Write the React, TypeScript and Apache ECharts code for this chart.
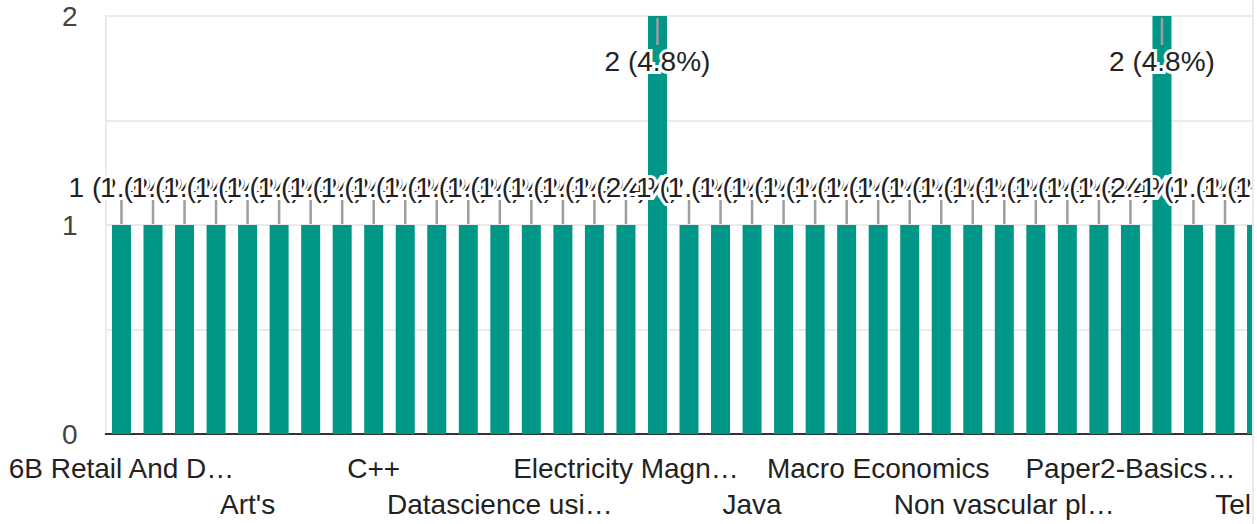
import React, { useEffect, useRef } from "react";
import * as echarts from "echarts";

const categories: string[] = [
  "6B Retail And Distribution Management",
  "Accountancy",
  "Advanced Java",
  "Algebra",
  "Art's",
  "Biology",
  "Botany",
  "Business Studies",
  "C++",
  "Chemistry",
  "Commerce",
  "Computer Networks",
  "Datascience using Python",
  "Digital Electronics",
  "Discrete Mathematics",
  "Economics",
  "Electricity Magnetism",
  "English",
  "Environmental Studies",
  "Hindi",
  "Java",
  "Kannada",
  "Linear Algebra",
  "Logic Design",
  "Macro Economics",
  "Marketing",
  "Mathematics",
  "Micro Economics",
  "Non vascular plants",
  "Operating Systems",
  "Organic Chemistry",
  "Paper1-Financial Accounting",
  "Paper2-Basics of Statistics",
  "Physics",
  "Python",
  "Statistics",
  "Telugu",
  "Thermodynamics",
  "Web Technology",
  "Zoology",
];

const counts: number[] = [
  1, 1, 1, 1, 1, 1, 1, 1, 1, 1,
  1, 1, 1, 1, 1, 1, 1, 2, 1, 1,
  1, 1, 1, 1, 1, 1, 1, 1, 1, 1,
  1, 1, 1, 2, 1, 1, 1, 1, 1, 1,
];

const yTickLabels: number[] = [0, 1, 2];

const FONT = '"Liberation Sans", Arial, Helvetica, sans-serif';
const FONT_SIZE = 28;
const LABEL_MAX_WIDTH = 229;
const LABEL_STEP = 4;

export default function App() {
  const ref = useRef<HTMLDivElement>(null);

  useEffect(() => {
    if (!ref.current) return;
    const chart = echarts.init(ref.current, null, { renderer: "svg" });

    const total = counts.reduce((a, b) => a + b, 0);

    const canvas = document.createElement("canvas");
    const ctx = canvas.getContext("2d");
    if (ctx) ctx.font = `${FONT_SIZE}px ${FONT}`;
    const measure = (s: string) => (ctx ? ctx.measureText(s).width : s.length * 14);
    const truncate = (s: string) => {
      if (measure(s) <= LABEL_MAX_WIDTH) return s;
      let t = s;
      while (t.length > 0 && measure(t + "…") > LABEL_MAX_WIDTH) t = t.slice(0, -1);
      return t.replace(/\s+$/, "") + "…";
    };

    const option: any = {
      animation: false,
      backgroundColor: "#ffffff",
      grid: { left: 105.7, top: 16, width: 1261.2, bottom: 90, containLabel: false },
      xAxis: {
        type: "category",
        data: categories,
        axisLine: { show: true, lineStyle: { color: "#333333", width: 2 } },
        axisTick: { show: false },
        splitLine: { show: false },
        axisLabel: {
          interval: 0,
          fontSize: FONT_SIZE,
          fontFamily: FONT,
          color: "#222222",
          lineHeight: 36.5,
          margin: 16,
          hideOverlap: false,
          formatter: (value: string, index: number) => {
            if (index % LABEL_STEP !== 0) return "";
            const t = truncate(value);
            return index % (LABEL_STEP * 2) === LABEL_STEP ? "\n" + t : t;
          },
        },
      },
      yAxis: {
        type: "value",
        min: 0,
        max: 2,
        interval: 0.5,
        axisLine: { show: true, lineStyle: { color: "#ebebeb", width: 2 } },
        axisTick: { show: false },
        splitLine: { show: true, lineStyle: { color: "#ebebeb", width: 2 } },
        axisLabel: {
          fontSize: FONT_SIZE,
          fontFamily: FONT,
          color: "#444444",
          margin: 28,
          formatter: (v: number) => (yTickLabels.includes(v) ? String(v) : ""),
        },
      },
      series: [
        {
          type: "bar",
          data: counts,
          barWidth: 19,
          itemStyle: { color: "#009688" },
          z: 2,
        },
        {
          type: "custom",
          z: 5,
          silent: true,
          data: counts.map((v, i) => [i, v]),
          encode: { x: 0, y: 1 },
          renderItem: (params: any, api: any) => {
            const idx = api.value(0);
            const val = api.value(1);
            const pt = api.coord([idx, val]);
            const cx = pt[0];
            const cy = pt[1];
            const top = params.coordSys.y;
            const text = `${val} (${((val / total) * 100).toFixed(1)}%)`;
            const above = cy - 60 >= top;
            const l1 = above ? cy - 1 : cy + 2;
            const l2 = above ? cy - 26 : cy + 29;
            const ty = above ? cy - 37.5 : cy + 45.5;
            const base = {
              text,
              x: cx,
              y: ty,
              align: "center",
              verticalAlign: "middle",
              fontSize: FONT_SIZE,
              fontFamily: FONT,
            };
            return {
              type: "group",
              children: [
                {
                  type: "line",
                  shape: { x1: cx, y1: l1, x2: cx, y2: l2 },
                  style: { stroke: "#9e9e9e", lineWidth: 2.5 },
                },
                {
                  type: "text",
                  style: { ...base, fill: "#ffffff", stroke: "#ffffff", lineWidth: 6 },
                },
                {
                  type: "text",
                  style: { ...base, fill: "#222222" },
                },
              ],
            };
          },
        },
      ],
    };

    chart.setOption(option);
    return () => chart.dispose();
  }, []);

  return (
    <div
      style={{
        position: "absolute",
        left: 0,
        top: 0,
        width: 1252,
        height: 524,
        overflow: "hidden",
        borderRight: "2px solid #ebebeb",
        background: "#ffffff",
      }}
    >
      <div ref={ref} style={{ width: 1400, height: 524 }} />
    </div>
  );
}
